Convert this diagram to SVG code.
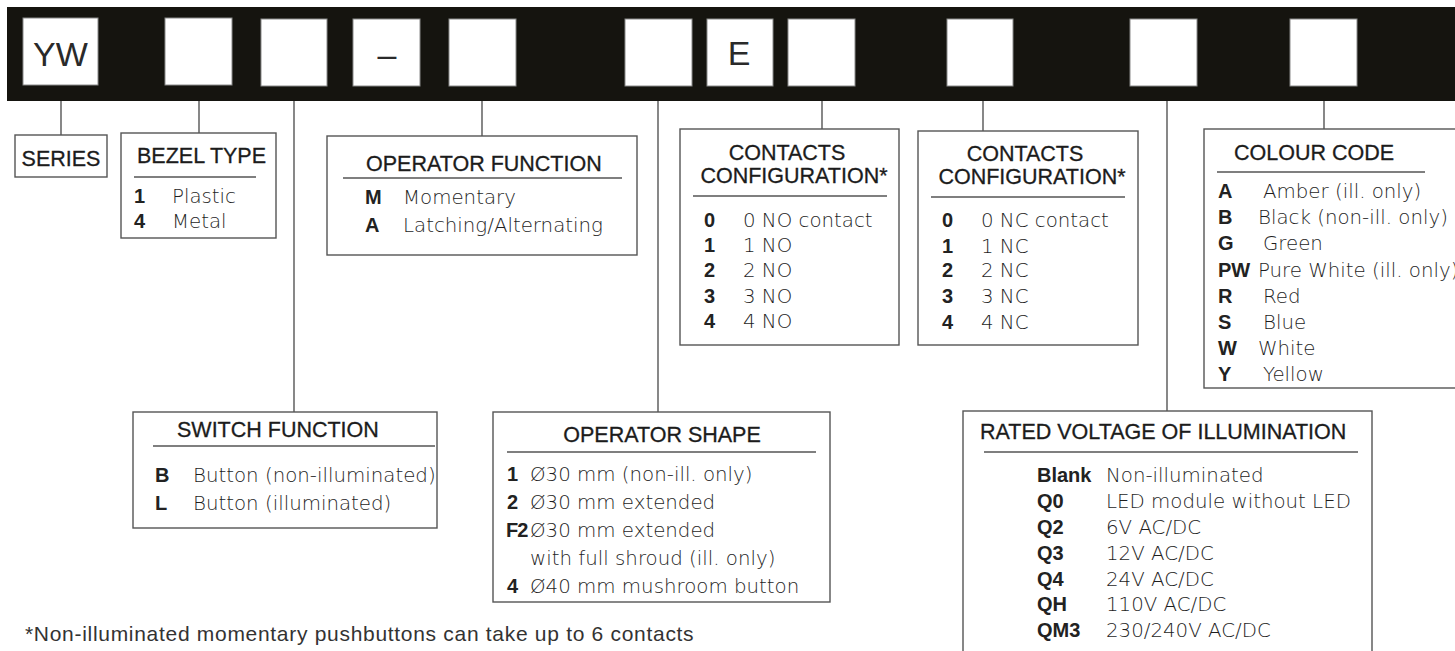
<svg xmlns="http://www.w3.org/2000/svg" width="1455" height="651" viewBox="0 0 1455 651">
<style>
.bg{fill:#ffffff}
.bar{fill:#15140f}
.slot{fill:#ffffff;stroke:#8a8a8a;stroke-width:1}
.box{fill:#ffffff;stroke:#555;stroke-width:1.4}
.rule{stroke:#555;stroke-width:1.3}
.conn path{fill:none;stroke:#555;stroke-width:1.4}
.big{font-family:"Liberation Sans",Arial,sans-serif;font-size:34px;fill:#2a2a2a}
.hd{font-family:"Liberation Sans",Arial,sans-serif;font-size:21.5px;fill:#1c1c1c;stroke:#1c1c1c;stroke-width:0.3}
.k{font-family:"Liberation Sans",Arial,sans-serif;font-size:20px;font-weight:bold;fill:#222}
.v{font-family:"DejaVu Sans","Liberation Sans",sans-serif;font-size:19.8px;font-weight:300;fill:#1e1e1e}
.foot{font-family:"Liberation Sans",Arial,sans-serif;font-size:21px;letter-spacing:0.7px;fill:#333}
</style>
<rect class="bg" x="0" y="0" width="1455" height="651"/>

<g id="code-bar">
<rect class="bar" x="7" y="7" width="1460" height="94"/>
<rect class="slot" x="23" y="18" width="75" height="67"/>
<rect class="slot" x="165" y="18" width="67" height="67"/>
<rect class="slot" x="261" y="19" width="66" height="67"/>
<rect class="slot" x="353" y="19" width="67" height="67"/>
<rect class="slot" x="449" y="19" width="67" height="67"/>
<rect class="slot" x="625" y="19" width="67" height="67"/>
<rect class="slot" x="707" y="19" width="66" height="67"/>
<rect class="slot" x="788" y="19" width="67" height="67"/>
<rect class="slot" x="947" y="19" width="66" height="67"/>
<rect class="slot" x="1130" y="19" width="67" height="67"/>
<rect class="slot" x="1290" y="19" width="67" height="67"/>
<text class="big" x="60.5" y="66" text-anchor="middle">YW</text>
<text class="big" x="387" y="66" text-anchor="middle">–</text>
<text class="big" x="739" y="65" text-anchor="middle" font-size="33" fill="#333">E</text>
</g>

<g id="connectors" class="conn">
<path d="M61,101 V135"/>
<path d="M199,101 V133"/>
<path d="M294,101 V412"/>
<path d="M482,101 V136"/>
<path d="M658,101 V412"/>
<path d="M822,101 V129"/>
<path d="M983,101 V131"/>
<path d="M1167,101 V411"/>
<path d="M1324,101 V129"/>
</g>

<g id="node-series">
<rect class="box" x="15" y="135" width="92" height="42"/>
<text class="hd" x="61" y="166" text-anchor="middle" font-size="20.5">SERIES</text>
</g>

<g id="node-bezel-type">
<rect class="box" x="121" y="133" width="155" height="105"/>
<text class="hd" x="137" y="163" font-size="21">BEZEL TYPE</text>
<line class="rule" x1="134" y1="177" x2="256" y2="177"/>
<text class="k" x="134" y="203">1</text><text class="v" x="172" y="203">Plastic</text>
<text class="k" x="134" y="228">4</text><text class="v" x="172" y="228">Metal</text>
</g>

<g id="node-operator-function">
<rect class="box" x="327" y="136" width="310" height="119"/>
<text class="hd" x="366" y="171">OPERATOR FUNCTION</text>
<line class="rule" x1="343" y1="178" x2="622" y2="178"/>
<text class="k" x="365" y="204">M</text><text class="v" x="403" y="204">Momentary</text>
<text class="k" x="365" y="232">A</text><text class="v" x="403" y="232">Latching/Alternating</text>
</g>

<g id="node-contacts-no">
<rect class="box" x="680" y="129" width="219" height="216"/>
<text class="hd" x="787" y="160" text-anchor="middle" font-size="21">CONTACTS</text>
<text class="hd" x="794" y="183" text-anchor="middle" font-size="21.5">CONFIGURATION*</text>
<line class="rule" x1="693" y1="196" x2="887" y2="196"/>
<text class="k" x="704" y="227">0</text><text class="v" x="743" y="227">0 NO contact</text>
<text class="k" x="704" y="252">1</text><text class="v" x="743" y="252">1 NO</text>
<text class="k" x="704" y="277">2</text><text class="v" x="743" y="277">2 NO</text>
<text class="k" x="704" y="303">3</text><text class="v" x="743" y="303">3 NO</text>
<text class="k" x="704" y="328">4</text><text class="v" x="743" y="328">4 NO</text>
</g>

<g id="node-contacts-nc">
<rect class="box" x="918" y="131" width="220" height="214"/>
<text class="hd" x="1025" y="161" text-anchor="middle" font-size="21">CONTACTS</text>
<text class="hd" x="1032" y="184" text-anchor="middle" font-size="21.5">CONFIGURATION*</text>
<line class="rule" x1="931" y1="197" x2="1125" y2="197"/>
<text class="k" x="942" y="227">0</text><text class="v" x="981" y="227">0 NC contact</text>
<text class="k" x="942" y="253">1</text><text class="v" x="981" y="253">1 NC</text>
<text class="k" x="942" y="277">2</text><text class="v" x="981" y="277">2 NC</text>
<text class="k" x="942" y="303">3</text><text class="v" x="981" y="303">3 NC</text>
<text class="k" x="942" y="329">4</text><text class="v" x="981" y="329">4 NC</text>
</g>

<g id="node-colour-code">
<rect class="box" x="1204" y="129" width="270" height="259"/>
<text class="hd" x="1234" y="160">COLOUR CODE</text>
<line class="rule" x1="1217" y1="172" x2="1425" y2="172"/>
<text class="k" x="1218" y="198">A</text><text class="v" x="1263" y="198">Amber (ill. only)</text>
<text class="k" x="1218" y="224">B</text><text class="v" x="1258" y="224">Black (non-ill. only)</text>
<text class="k" x="1218" y="250">G</text><text class="v" x="1263" y="250">Green</text>
<text class="k" x="1218" y="277">PW</text><text class="v" x="1258" y="277">Pure White (ill. only)</text>
<text class="k" x="1218" y="303">R</text><text class="v" x="1263" y="303">Red</text>
<text class="k" x="1218" y="329">S</text><text class="v" x="1263" y="329">Blue</text>
<text class="k" x="1218" y="355">W</text><text class="v" x="1258" y="355">White</text>
<text class="k" x="1218" y="381">Y</text><text class="v" x="1263" y="381">Yellow</text>
</g>

<g id="node-switch-function">
<rect class="box" x="133" y="412" width="304" height="116"/>
<text class="hd" x="177" y="437">SWITCH FUNCTION</text>
<line class="rule" x1="153" y1="446" x2="435" y2="446"/>
<text class="k" x="155" y="482">B</text><text class="v" x="193" y="482" font-size="19.5">Button (non-illuminated)</text>
<text class="k" x="155" y="510">L</text><text class="v" x="193" y="510" font-size="19.5">Button (illuminated)</text>
</g>

<g id="node-operator-shape">
<rect class="box" x="493" y="412" width="337" height="190"/>
<text class="hd" x="662" y="442" text-anchor="middle">OPERATOR SHAPE</text>
<line class="rule" x1="507" y1="452" x2="816" y2="452"/>
<text class="k" x="507" y="481">1</text><text class="v" x="530" y="481">Ø30 mm (non-ill. only)</text>
<text class="k" x="507" y="509">2</text><text class="v" x="530" y="509">Ø30 mm extended</text>
<text class="k" x="506" y="537" letter-spacing="-1">F2</text><text class="v" x="530" y="537">Ø30 mm extended</text>
<text class="v" x="530" y="565">with full shroud (ill. only)</text>
<text class="k" x="507" y="593">4</text><text class="v" x="530" y="593">Ø40 mm mushroom button</text>
</g>

<g id="node-rated-voltage">
<rect class="box" x="963" y="411" width="409" height="260"/>
<text class="hd" x="980" y="439">RATED VOLTAGE OF ILLUMINATION</text>
<line class="rule" x1="984" y1="452" x2="1358" y2="452"/>
<text class="k" x="1037" y="482">Blank</text><text class="v" x="1106" y="482">Non-illuminated</text>
<text class="k" x="1037" y="508">Q0</text><text class="v" x="1106" y="508">LED module without LED</text>
<text class="k" x="1037" y="534">Q2</text><text class="v" x="1106" y="534">6V AC/DC</text>
<text class="k" x="1037" y="560">Q3</text><text class="v" x="1106" y="560">12V AC/DC</text>
<text class="k" x="1037" y="586">Q4</text><text class="v" x="1106" y="586">24V AC/DC</text>
<text class="k" x="1037" y="611">QH</text><text class="v" x="1106" y="611">110V AC/DC</text>
<text class="k" x="1037" y="637">QM3</text><text class="v" x="1106" y="637">230/240V AC/DC</text>
</g>

<text class="foot" x="25" y="641">*Non-illuminated momentary pushbuttons can take up to 6 contacts</text>
</svg>
